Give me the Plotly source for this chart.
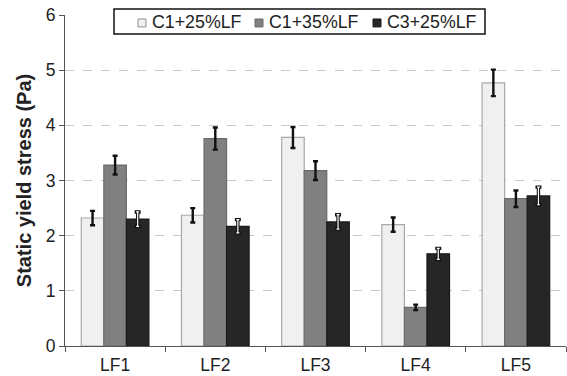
import plotly.graph_objects as go

categories = ["LF1", "LF2", "LF3", "LF4", "LF5"]
series_names = ["C1+25%LF", "C1+35%LF", "C3+25%LF"]
c1_25 = [2.32, 2.37, 3.78, 2.20, 4.77]
c1_35 = [3.28, 3.76, 3.18, 0.70, 2.67]
c3_25 = [2.30, 2.17, 2.25, 1.67, 2.72]
err_c1_25 = [0.13, 0.13, 0.19, 0.13, 0.24]
err_c1_35 = [0.17, 0.20, 0.17, 0.05, 0.15]
err_c3_25 = [0.13, 0.12, 0.13, 0.10, 0.16]
y_ticks = [0, 1, 2, 3, 4, 5, 6]

fills = ["#f0f0f0", "#808080", "#262626"]
outlines = ["#a8a8a8", "#6a6a6a", "#1a1a1a"]
groups = ["a", "b", "c"]
values = [c1_25, c1_35, c3_25]
errors = [err_c1_25, err_c1_35, err_c3_25]

W, H = 567, 376
ML, MR, MT, MB = 65, 1, 15, 28
PW, PH = W - ML - MR, H - MT - MB


def px(x):
    return (x - ML) / PW


def py(y):
    return (H - MB - y) / PH


fig = go.Figure()
for name, vals, errs, fc, lc, g in zip(series_names, values, errors, fills, outlines, groups):
    fig.add_trace(go.Bar(
        name=name, x=categories, y=vals, offsetgroup=g, showlegend=False,
        marker=dict(color=fc, line=dict(color=lc, width=1.2)),
        error_y=dict(type="data", array=errs, visible=True,
                     color="#111111", thickness=2.4 if g != "c" else 3.4,
                     width=2.5 if g != "c" else 3),
    ))

# white core on the error bars of the dark series
fig.add_trace(go.Bar(
    x=categories, y=c3_25, offsetgroup="c", showlegend=False, hoverinfo="skip",
    marker=dict(color="rgba(0,0,0,0)", line=dict(width=0)),
    error_y=dict(type="data", array=err_c3_25, visible=True,
                 color="#ffffff", thickness=1.2, width=1.5),
))

# compact legend box: frame, swatches and labels
shapes = [dict(type="rect", xref="paper", yref="paper",
               x0=px(114), x1=px(485), y0=py(34), y1=py(9),
               fillcolor="white", line=dict(color="#111111", width=1.5), layer="above")]
annotations = []
swatch_x = [138, 255, 373]
label_x = [150, 267, 385]
for name, fc, lc, sx, lx in zip(series_names, fills, outlines, swatch_x, label_x):
    shapes.append(dict(type="rect", xref="paper", yref="paper",
                       x0=px(sx), x1=px(sx + 8), y0=py(27), y1=py(19),
                       fillcolor=fc, line=dict(color=lc if fc != "#f0f0f0" else "#909090", width=1),
                       layer="above"))
    annotations.append(dict(text=name, xref="paper", yref="paper",
                            x=px(lx), y=py(22.5), xanchor="left", yanchor="middle",
                            showarrow=False, font=dict(size=17.8, color="#222222")))

fig.update_layout(
    width=W, height=H,
    margin=dict(l=ML, r=MR, t=MT, b=MB),
    paper_bgcolor="white", plot_bgcolor="white",
    barmode="group", bargap=0.325, bargroupgap=0,
    font=dict(family="Liberation Sans, Arial, sans-serif", color="#222222", size=17),
    shapes=shapes, annotations=annotations,
    showlegend=False,
)

fig.update_yaxes(
    range=[0, 6], tickvals=y_ticks, ticks="outside", ticklen=5,
    tickcolor="#555555", showline=True, linecolor="#555555", linewidth=1.2,
    showgrid=True, gridcolor="#c8c8c8", griddash="dash", gridwidth=1,
    zeroline=False, tickfont=dict(size=17.5),
    title=dict(text="<b>Static yield stress (Pa)</b>", font=dict(size=20), standoff=8),
)
fig.update_xaxes(
    type="category", ticks="outside", tickson="boundaries", ticklen=5,
    tickcolor="#555555", showline=True, linecolor="#555555", linewidth=1.2,
    showgrid=False, tickfont=dict(size=17.5), ticklabelstandoff=3,
)

fig.write_html("out.html")
